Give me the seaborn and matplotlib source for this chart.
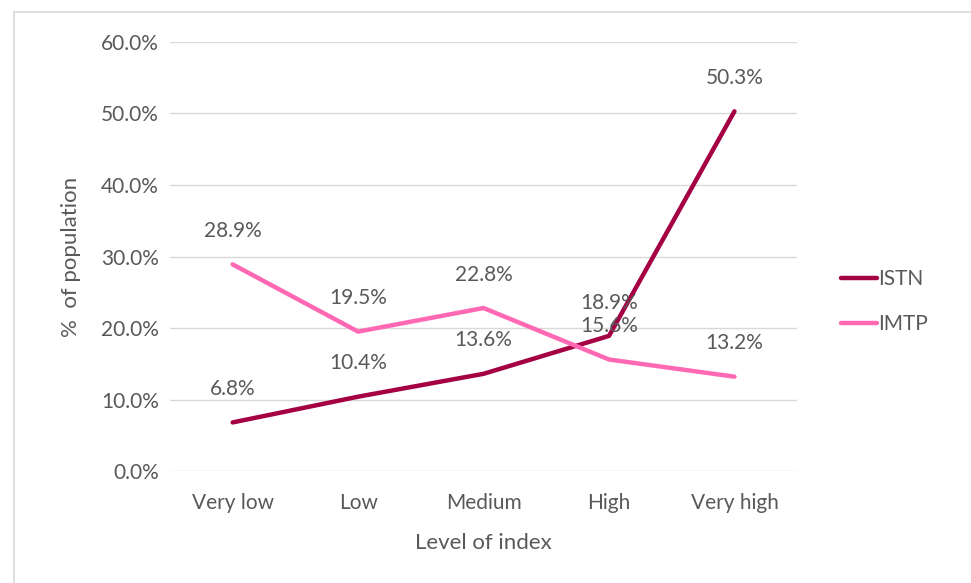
import matplotlib
matplotlib.use('Agg')
import matplotlib.pyplot as plt
from matplotlib.patches import Rectangle
from matplotlib.ticker import PercentFormatter
import pandas as pd
import seaborn as sns

# Data
levels = ['Very low', 'Low', 'Medium', 'High', 'Very high']
istn = [6.8, 10.4, 13.6, 18.9, 50.3]
imtp = [28.9, 19.5, 22.8, 15.6, 13.2]
series_names = ['ISTN', 'IMTP']
colors = {'ISTN': '#A50044', 'IMTP': '#FF69B4'}
y_ticks = [0, 10, 20, 30, 40, 50, 60]

df = pd.DataFrame({'Level': levels * 2,
                   'Value': istn + imtp,
                   'Series': ['ISTN'] * len(levels) + ['IMTP'] * len(levels)})

sns.set_style('white')
plt.rcParams['font.family'] = ['Lato', 'DejaVu Sans']
text_grey = '#595959'
fs = 15

fig = plt.figure(figsize=(9.71, 5.83), dpi=100)
ax = fig.add_axes([0.175, 0.192, 0.646, 0.736])

# outer chart border (only top/left visible in the reference crop)
fig.patches.append(Rectangle((14 / 971, -0.1), 1.2, 1 - 12 / 583 + 0.1,
                             transform=fig.transFigure, fill=False,
                             edgecolor='#d9d9d9', linewidth=1.2))

sns.lineplot(data=df, x='Level', y='Value', hue='Series', hue_order=series_names,
             palette=colors, linewidth=3.2, sort=False, ax=ax, legend=False)

# data labels above each point
for name, vals in zip(series_names, [istn, imtp]):
    for i, v in enumerate(vals):
        ax.annotate(f'{v:.1f}%', (i, v), xytext=(0, 24), textcoords='offset points',
                    ha='center', va='center', fontsize=fs, color=text_grey)

ax.set_ylim(0, 60)
ax.set_xlim(-0.5, len(levels) - 0.5)
ax.set_yticks(y_ticks)
ax.yaxis.set_major_formatter(PercentFormatter(decimals=1))
ax.grid(axis='y', color='#d9d9d9', linewidth=1)
for s in ax.spines.values():
    s.set_visible(False)
ax.tick_params(axis='both', length=0, labelsize=fs, colors=text_grey, pad=8)
ax.tick_params(axis='x', pad=16)
ax.set_xlabel('Level of index', fontsize=fs + 1, color=text_grey, labelpad=14)
ax.set_ylabel('%  of population', fontsize=fs + 1, color=text_grey, labelpad=14)

# legend on the right
handles = [plt.Line2D([], [], color=colors[n], linewidth=3.2, solid_capstyle='round')
           for n in series_names]
leg = fig.legend(handles, series_names, loc='center left', bbox_to_anchor=(0.847, 0.483),
                 frameon=False, fontsize=fs, handlelength=1.7, handletextpad=0.05,
                 labelspacing=1.2)
for t in leg.get_texts():
    t.set_color(text_grey)

fig.savefig('out.png', dpi=100)
